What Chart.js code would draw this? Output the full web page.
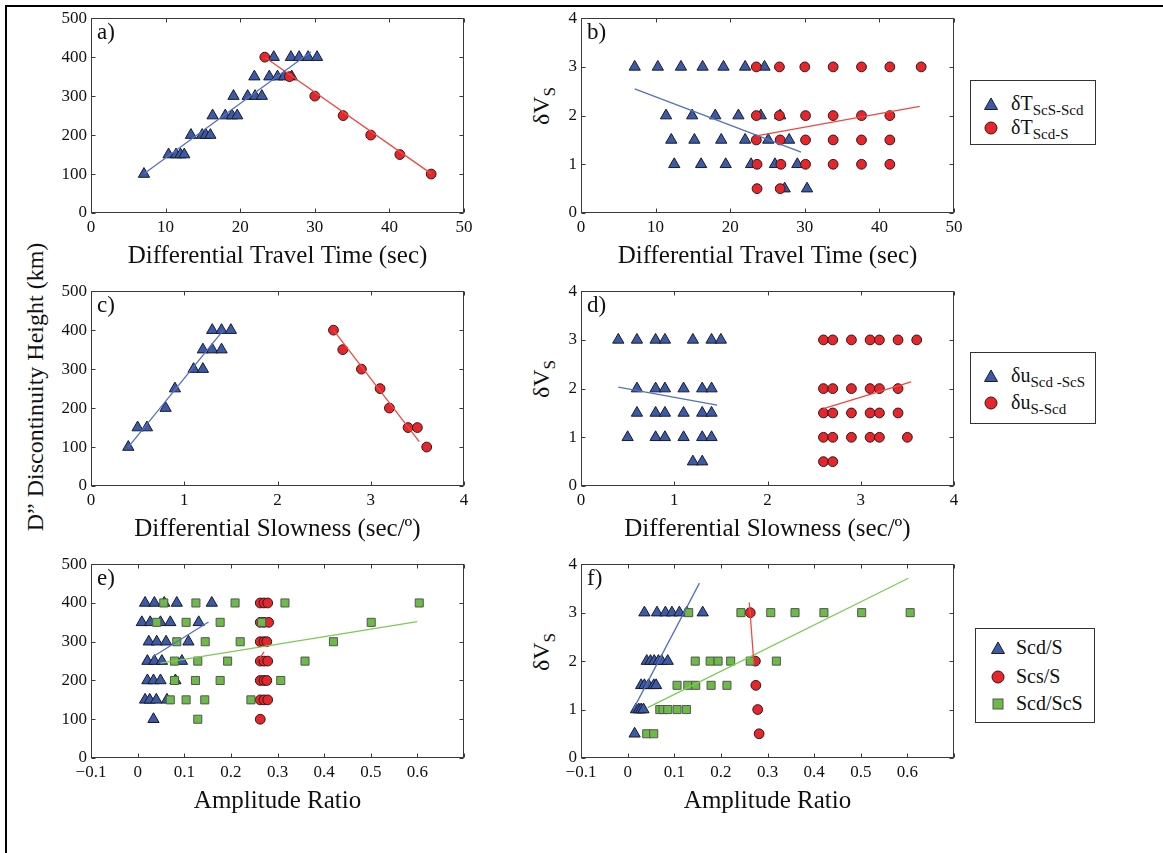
<!DOCTYPE html>
<html>
<head>
<meta charset="utf-8">
<script src="https://cdn.jsdelivr.net/npm/chart.js@4.4.0/dist/chart.umd.min.js"></script>
<style>
  body { margin: 0; background: #fff; width: 1163px; height: 853px; overflow: hidden; position: relative; font-family: "Liberation Serif", "DejaVu Serif", serif; color: #111; }
  #frame { position: absolute; left: 5px; top: 5px; width: 1200px; height: 900px; border-top: 2px solid #000; border-left: 2px solid #000; }
  canvas { position: absolute; }
  .ylab { position: absolute; transform: translate(-50%, -50%) rotate(-90deg); white-space: nowrap; font-size: 24px; }
  .ylab sub { font-size: 17px; vertical-align: -6px; }
  .legend { position: absolute; border: 1px solid #333; background: #fff; font-size: 20px; }
  .legend svg { position: absolute; }
  .legend span { position: absolute; white-space: nowrap; line-height: 20px; }
  sub { font-size: 15px; vertical-align: -5px; line-height: 0; }
</style>
</head>
<body>
<div id="frame"></div>

<div class="ylab" style="left:35px; top:387px;">D&#8221; Discontinuity Height (km)</div>
<div class="ylab" style="left:541px; top:106px;">&#948;V<sub>S</sub></div>
<div class="ylab" style="left:541px; top:379px;">&#948;V<sub>S</sub></div>
<div class="ylab" style="left:541px; top:652px;">&#948;V<sub>S</sub></div>

<div id="legB" class="legend" style="left:970px; top:80px; width:124px; height:63px;"></div>
<div id="legD" class="legend" style="left:970px; top:352px; width:124px; height:70px;"></div>
<div id="legF" class="legend" style="left:975px; top:628px; width:118px; height:93px;"></div>

<script>
// ---- data: travel time (sec) vs D'' height (km) ----
const aScsScd = [[7.1,100],
  [10.4,150],[11.4,150],[12.0,150],[12.5,150],
  [13.4,200],[14.9,200],[15.4,200],[16.0,200],
  [16.3,250],[18.0,250],[18.9,250],[19.6,250],
  [19.1,300],[21.0,300],[22.0,300],[22.9,300],
  [21.9,350],[23.9,350],[25.0,350],[25.9,350],[26.9,350],
  [24.5,400],[26.8,400],[27.9,400],[29.1,400],[30.3,400]];
const aScdS = [[23.3,400],[26.6,350],[30.0,300],[33.8,250],[37.5,200],[41.4,150],[45.6,100]];
const aFitBlue = [[7.1,101],[29.5,414]];
const aFitRed = [[23.3,400],[45.6,101]];

// ---- travel time (sec) vs dVs ----
const bScsScd = [
  [7.2,3],[10.3,3],[13.4,3],[16.3,3],[19.1,3],[22.0,3],[24.6,3],
  [11.4,2],[14.9,2],[18.0,2],[21.1,2],[24.1,2],[26.7,2],
  [12.1,1.5],[15.2,1.5],[18.8,1.5],[22.0,1.5],[25.1,1.5],[27.9,1.5],
  [12.5,1],[16.1,1],[19.4,1],[22.8,1],[26.0,1],[29.0,1],
  [27.3,0.5],[30.3,0.5]];
const bScdS = [
  [23.5,3],[26.6,3],[30.0,3],[33.8,3],[37.6,3],[41.4,3],[45.6,3],
  [23.5,2],[26.6,2],[30.1,2],[33.8,2],[37.6,2],[41.4,2],
  [23.5,1.5],[26.7,1.5],[30.1,1.5],[33.8,1.5],[37.6,1.5],[41.4,1.5],
  [23.6,1],[26.8,1],[30.1,1],[33.8,1],[37.6,1],[41.4,1],
  [23.6,0.5],[26.7,0.5]];
const bFitBlue = [[7.2,2.55],[29.5,1.25]];
const bFitRed = [[23.7,1.59],[45.4,2.19]];

// ---- slowness (sec/deg) vs D'' height (km) ----
const cScdScs = [[0.4,100],[0.5,150],[0.6,150],[0.8,200],[0.9,250],[1.1,300],[1.2,300],
  [1.2,350],[1.3,350],[1.4,350],[1.3,400],[1.4,400],[1.5,400]];
const cSScd = [[2.6,400],[2.7,350],[2.9,300],[3.1,250],[3.2,200],[3.4,150],[3.5,150],[3.6,100]];
const cFitBlue = [[0.4,100],[1.42,400]];
const cFitRed = [[2.6,400],[3.52,114]];

// ---- slowness (sec/deg) vs dVs ----
const dScdScs = [
  [0.4,3],[0.6,3],[0.8,3],[0.9,3],[1.2,3],[1.4,3],[1.5,3],
  [0.6,2],[0.8,2],[0.9,2],[1.1,2],[1.3,2],[1.4,2],
  [0.6,1.5],[0.8,1.5],[0.9,1.5],[1.1,1.5],[1.3,1.5],[1.4,1.5],
  [0.5,1],[0.8,1],[0.9,1],[1.1,1],[1.3,1],[1.4,1],
  [1.2,0.5],[1.3,0.5]];
const dSScd = [
  [2.6,3],[2.7,3],[2.9,3],[3.1,3],[3.2,3],[3.4,3],[3.6,3],
  [2.6,2],[2.7,2],[2.9,2],[3.1,2],[3.2,2],[3.4,2],
  [2.6,1.5],[2.7,1.5],[2.9,1.5],[3.1,1.5],[3.2,1.5],[3.4,1.5],
  [2.6,1],[2.7,1],[2.9,1],[3.1,1],[3.2,1],[3.5,1],
  [2.6,0.5],[2.7,0.5]];
const dFitBlue = [[0.4,2.03],[1.46,1.66]];
const dFitRed = [[2.6,1.59],[3.54,2.14]];

// ---- amplitude ratio vs D'' height (km) ----
const eScdS = [
  [0.016,400],[0.036,400],[0.057,400],[0.084,400],[0.159,400],
  [0.009,350],[0.027,350],[0.049,350],[0.070,350],[0.131,350],
  [0.024,300],[0.041,300],[0.061,300],[0.109,300],
  [0.021,250],[0.036,250],[0.052,250],[0.095,250],
  [0.021,200],[0.034,200],[0.049,200],[0.081,200],
  [0.016,150],[0.026,150],[0.040,150],[0.063,150],
  [0.034,100]];
const eScsS = [
  [0.263,400],[0.271,400],[0.279,400],
  [0.263,350],[0.271,350],[0.281,350],
  [0.263,300],[0.271,300],[0.277,300],
  [0.263,250],[0.271,250],[0.279,250],
  [0.263,200],[0.271,200],[0.277,200],
  [0.263,150],[0.271,150],[0.279,150],
  [0.263,100]];
const eScdScs = [
  [0.056,400],[0.125,400],[0.209,400],[0.316,400],[0.604,400],
  [0.041,350],[0.104,350],[0.177,350],[0.266,350],[0.501,350],
  [0.084,300],[0.145,300],[0.220,300],[0.420,300],
  [0.079,250],[0.129,250],[0.193,250],[0.359,250],
  [0.079,200],[0.124,200],[0.177,200],[0.307,200],
  [0.070,150],[0.104,150],[0.144,150],[0.243,150],
  [0.129,100]];
const eFitBlue = [[0.031,260],[0.152,351]];
const eFitRed = [[0.261,255],[0.271,274]];
const eFitGreen = [[0.049,245],[0.600,352]];

// ---- amplitude ratio vs dVs ----
const fScdS = [
  [0.036,3],[0.063,3],[0.081,3],[0.095,3],[0.111,3],[0.127,3],[0.161,3],
  [0.041,2],[0.049,2],[0.057,2],[0.066,2],[0.073,2],[0.086,2],
  [0.029,1.5],[0.036,1.5],[0.045,1.5],[0.056,1.5],[0.061,1.5],
  [0.018,1],[0.024,1],[0.029,1],[0.034,1],
  [0.015,0.5]];
const fScsS = [[0.263,3],[0.274,2],[0.275,1.5],[0.279,1],[0.282,0.5]];
const fScdScs = [
  [0.131,3],[0.243,3],[0.307,3],[0.359,3],[0.421,3],[0.502,3],[0.606,3],
  [0.145,2],[0.177,2],[0.194,2],[0.221,2],[0.263,2],[0.319,2],
  [0.106,1.5],[0.129,1.5],[0.146,1.5],[0.179,1.5],[0.213,1.5],
  [0.069,1],[0.076,1],[0.086,1],[0.106,1],[0.126,1],
  [0.041,0.5],[0.056,0.5]];
const fFitBlue = [[0.013,1.02],[0.154,3.61]];
const fFitRed = [[0.261,3.21],[0.271,1.93]];
const fFitGreen = [[0.043,1.04],[0.602,3.71]];

// ---- tick values and labels ----
const timeTicks = [0, 10, 20, 30, 40, 50];
const slowTicks = [0, 1, 2, 3, 4];
const ampTicks = [-0.1, 0, 0.1, 0.2, 0.3, 0.4, 0.5, 0.6, 0.7];
const ampLabels = ['\u22120.1', '0', '0.1', '0.2', '0.3', '0.4', '0.5', '0.6', ''];
const heightTicks = [0, 100, 200, 300, 400, 500];
const dvsTicks = [0, 1, 2, 3, 4];

const BLUE = '#3b5aa8', RED = '#e8252a', GREEN = '#6dbb47';
const FONT = '"Liberation Serif", "DejaVu Serif", serif';

const toXY = pts => pts.map(([x, y]) => ({ x, y }));
const tri = pts => ({ data: toXY(pts), pointStyle: 'triangle', pointRadius: 6.5, backgroundColor: BLUE, borderColor: '#1a1a2a', borderWidth: 1, order: 3 });
const dot = pts => ({ data: toXY(pts), pointStyle: 'circle', pointRadius: 4.9, backgroundColor: RED, borderColor: '#2a1a1a', borderWidth: 1, order: 2 });
const sq = pts => ({ data: toXY(pts), pointStyle: 'rect', pointRadius: 5.7, backgroundColor: GREEN, borderColor: '#555', borderWidth: 1, order: 1 });
const fit = (pts, color) => ({ data: toXY(pts), showLine: true, borderColor: color, borderWidth: 1.3, pointRadius: 0, order: 0 });

// box outline with inward ticks on all four sides, plus the panel letter
const framePlugin = {
  id: 'frame',
  afterDraw(chart, args, opts) {
    const { ctx, chartArea: a, scales: { x, y } } = chart;
    const L = Math.round(a.left) + 0.5, R = Math.round(a.right) - 0.5;
    const T = Math.round(a.top) + 0.5, B = Math.round(a.bottom) - 0.5;
    ctx.save();
    ctx.strokeStyle = '#3a3a3a';
    ctx.lineWidth = 1;
    ctx.strokeRect(L, T, R - L, B - T);
    ctx.beginPath();
    x.ticks.forEach(t => {
      const px = Math.round(x.getPixelForValue(t.value)) + 0.5;
      ctx.moveTo(px, B); ctx.lineTo(px, B - 4);
      ctx.moveTo(px, T); ctx.lineTo(px, T + 4);
    });
    y.ticks.forEach(t => {
      const py = Math.round(y.getPixelForValue(t.value)) + 0.5;
      ctx.moveTo(L, py); ctx.lineTo(L + 4, py);
      ctx.moveTo(R, py); ctx.lineTo(R - 4, py);
    });
    ctx.stroke();
    ctx.fillStyle = '#111';
    ctx.font = '23px ' + FONT;
    ctx.textBaseline = 'top';
    ctx.fillText(opts.label, a.left + 6, a.top + 3);
    ctx.restore();
  }
};

function axis(min, max, ticks, labels, title) {
  const ax = {
    type: 'linear', min, max,
    afterBuildTicks: s => { s.ticks = ticks.map(v => ({ value: v })); },
    ticks: { callback: (v, i) => labels[i], font: { family: FONT, size: 17 }, color: '#111', padding: 4, maxRotation: 0, autoSkip: false },
    grid: { display: false, drawTicks: false },
    border: { display: false }
  };
  if (title) ax.title = { display: true, text: title, font: { family: FONT, size: 25 }, color: '#111', padding: 0 };
  return ax;
}

function panel(box, label, datasets, xAx, yAx) {
  const padL = 70, padT = 12, padR = 14, padB = 58;
  const canvas = document.createElement('canvas');
  canvas.width = box.w + padL + padR;
  canvas.height = box.h + padT + padB;
  canvas.style.left = (box.x - padL) + 'px';
  canvas.style.top = (box.y - padT) + 'px';
  canvas.style.width = canvas.width + 'px';
  canvas.style.height = canvas.height + 'px';
  document.body.appendChild(canvas);
  xAx.afterFit = s => { s.height = padB; };
  yAx.afterFit = s => { s.width = padL; };
  new Chart(canvas, {
    type: 'scatter',
    data: { datasets },
    options: {
      responsive: false, animation: false, devicePixelRatio: 1, events: [],
      layout: { padding: { left: 0, top: padT, right: padR, bottom: 0 } },
      plugins: { legend: { display: false }, tooltip: { enabled: false }, frame: { label } },
      scales: { x: xAx, y: yAx }
    },
    plugins: [framePlugin]
  });
}

const timeLabels = timeTicks.map(String);
const slowLabels = slowTicks.map(String);
const heightLabels = heightTicks.map(String);
const dvsLabels = dvsTicks.map(String);

panel({ x: 91, y: 16, w: 373, h: 197 }, 'a)',
  [fit(aFitBlue, '#5670c0'), fit(aFitRed, '#f0483f'), tri(aScsScd), dot(aScdS)],
  axis(0, 50, timeTicks, timeLabels, 'Differential Travel Time (sec)'),
  axis(0, 500, heightTicks, heightLabels));
panel({ x: 581, y: 16, w: 373, h: 197 }, 'b)',
  [fit(bFitBlue, '#5670c0'), fit(bFitRed, '#f0483f'), tri(bScsScd), dot(bScdS)],
  axis(0, 50, timeTicks, timeLabels, 'Differential Travel Time (sec)'),
  axis(0, 4, dvsTicks, dvsLabels));
panel({ x: 91, y: 289, w: 373, h: 197 }, 'c)',
  [fit(cFitBlue, '#5670c0'), fit(cFitRed, '#f0483f'), tri(cScdScs), dot(cSScd)],
  axis(0, 4, slowTicks, slowLabels, 'Differential Slowness (sec/\u00BA)'),
  axis(0, 500, heightTicks, heightLabels));
panel({ x: 581, y: 289, w: 373, h: 197 }, 'd)',
  [fit(dFitBlue, '#5670c0'), fit(dFitRed, '#f0483f'), tri(dScdScs), dot(dSScd)],
  axis(0, 4, slowTicks, slowLabels, 'Differential Slowness (sec/\u00BA)'),
  axis(0, 4, dvsTicks, dvsLabels));
panel({ x: 91, y: 562, w: 373, h: 196 }, 'e)',
  [fit(eFitBlue, '#5670c0'), fit(eFitRed, '#f0483f'), fit(eFitGreen, '#7dcb55'), tri(eScdS), dot(eScsS), sq(eScdScs)],
  axis(-0.1, 0.7, ampTicks, ampLabels, 'Amplitude Ratio'),
  axis(0, 500, heightTicks, heightLabels));
panel({ x: 581, y: 562, w: 373, h: 196 }, 'f)',
  [fit(fFitBlue, '#5670c0'), fit(fFitRed, '#f0483f'), fit(fFitGreen, '#7dcb55'), tri(fScdS), dot(fScsS), sq(fScdScs)],
  axis(-0.1, 0.7, ampTicks, ampLabels, 'Amplitude Ratio'),
  axis(0, 4, dvsTicks, dvsLabels));

// legends
const marks = {
  tri: `<polygon points="8,2 14.5,13.5 1.5,13.5" fill="${BLUE}" stroke="#1a1a2a" stroke-width="1"/>`,
  dot: `<circle cx="8" cy="8" r="6" fill="${RED}" stroke="#2a1a1a" stroke-width="1"/>`,
  sq: `<rect x="3" y="3" width="10" height="10" fill="${GREEN}" stroke="#555" stroke-width="1"/>`
};
function legend(id, rows, markX, textX) {
  const el = document.getElementById(id);
  el.innerHTML = rows.map(([m, html, cy]) =>
    `<svg style="left:${markX - 8}px; top:${cy - 8}px" width="16" height="16">${marks[m]}</svg>` +
    `<span style="left:${textX}px; top:${cy - 11}px">${html}</span>`).join('');
}
legend('legB', [['tri', '&#948;T<sub>ScS-Scd</sub>', 23], ['dot', '&#948;T<sub>Scd-S</sub>', 47]], 20, 40);
legend('legD', [['tri', '&#948;u<sub>Scd -ScS</sub>', 23], ['dot', '&#948;u<sub>S-Scd</sub>', 50]], 20, 40);
legend('legF', [['tri', 'Scd/S', 19], ['dot', 'Scs/S', 48], ['sq', 'Scd/ScS', 75]], 22, 40);
</script>
</body>
</html>
